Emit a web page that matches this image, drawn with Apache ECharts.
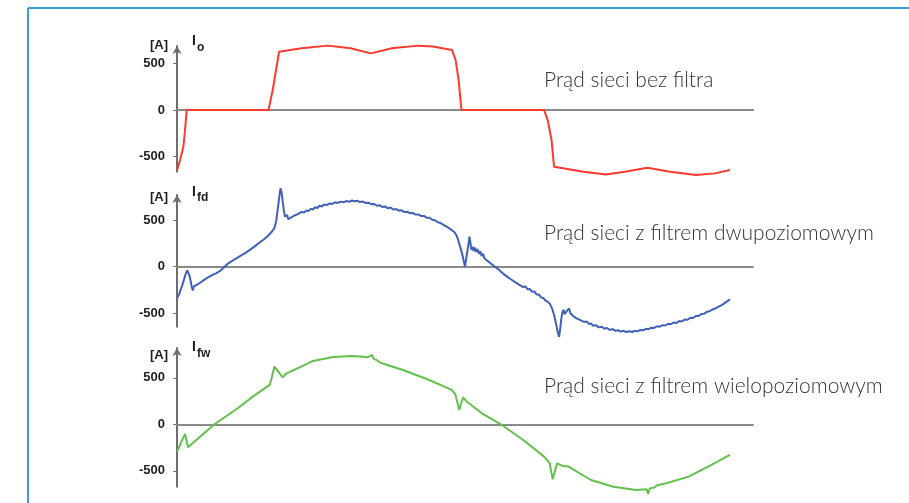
<!DOCTYPE html>
<html>
<head>
<meta charset="utf-8">
<script src="https://cdn.jsdelivr.net/npm/echarts@6/dist/echarts.min.js"></script>
<style>html,body{margin:0;padding:0;background:#fff}#c{width:909px;height:503px}</style>
</head>
<body>
<div id="c"></div>
<script>
// time in ms (one 50 Hz period), current in A
const yTickValues = [-500, 0, 500];
const unitLabel = '[A]';
const symbolMain = 'I';
const subscripts = ['o', 'fd', 'fw'];
const seriesNames = ['Prąd sieci bez filtra', 'Prąd sieci z filtrem dwupoziomowym', 'Prąd sieci z filtrem wielopoziomowym'];

const redPoints = [[0,-650],[0.11,-538],[0.23,-395],[0.29,-215],[0.35,0],[3.30,0],[3.45,215],[3.68,627],[4.49,663],[5.44,692],[6.25,663],[6.99,609],[7.74,663],[8.69,692],[9.23,682],[9.91,645],[10.04,538],[10.15,323],[10.25,0],[13.23,0],[13.36,-108],[13.5,-323],[13.59,-609],[14.65,-663],[15.46,-692],[16.14,-663],[16.95,-620],[17.77,-663],[18.71,-699],[19.39,-681],[19.93,-645]];

const bluePoints = [[0,-340],[0.07,-300],[0.13,-250],[0.2,-190],[0.26,-130],[0.32,-70],[0.37,-40],[0.41,-45],[0.45,-95],[0.49,-150],[0.53,-215],[0.57,-255],[0.61,-210],[0.66,-225],[0.71,-195],[0.76,-205],[0.82,-175],[0.88,-185],[0.94,-150],[1.0,-160],[1.06,-125],[1.12,-135],[1.18,-105],[1.24,-118],[1.3,-85],[1.36,-100],[1.42,-68],[1.48,-78],[1.55,-45],[1.62,-50],[1.7,-5],[1.76,-10],[1.82,30],[1.88,20],[1.95,55],[2.02,45],[2.08,80],[2.14,70],[2.2,100],[2.27,92],[2.33,125],[2.4,115],[2.47,148],[2.54,140],[2.6,175],[2.67,165],[2.74,205],[2.8,195],[2.87,235],[2.94,225],[3.0,265],[3.07,255],[3.14,295],[3.2,290],[3.27,330],[3.33,325],[3.4,370],[3.46,385],[3.52,420],[3.58,500],[3.64,640],[3.69,760],[3.73,843],[3.77,800],[3.81,700],[3.85,610],[3.89,540],[3.93,520],[3.97,555],[4.01,510],[4.05,490],[4.09,525],[4.14,505],[4.2,545],[4.27,535],[4.35,565],[4.42,558],[4.5,590],[4.58,582],[4.66,605],[4.74,598],[4.82,622],[4.9,615],[4.98,640],[5.06,632],[5.14,655],[5.22,648],[5.3,668],[5.4,662],[5.5,680],[5.6,675],[5.7,692],[5.8,686],[5.9,700],[6.0,693],[6.1,706],[6.2,698],[6.3,712],[6.4,703],[6.5,708],[6.6,696],[6.7,700],[6.8,685],[6.9,688],[7.0,672],[7.1,675],[7.2,655],[7.3,662],[7.4,642],[7.5,648],[7.6,628],[7.7,635],[7.8,615],[7.9,620],[8.0,602],[8.1,606],[8.2,588],[8.3,592],[8.4,574],[8.5,578],[8.6,560],[8.7,562],[8.8,544],[8.9,546],[9.0,526],[9.1,526],[9.2,505],[9.3,500],[9.4,478],[9.5,470],[9.6,450],[9.7,435],[9.8,415],[9.9,395],[10.0,370],[10.06,345],[10.12,300],[10.18,240],[10.24,180],[10.3,110],[10.35,40],[10.38,0],[10.42,80],[10.46,160],[10.5,230],[10.54,323],[10.57,270],[10.61,180],[10.65,215],[10.69,170],[10.73,205],[10.78,160],[10.83,190],[10.88,140],[10.93,165],[10.98,115],[11.03,140],[11.08,90],[11.13,110],[11.18,65],[11.23,85],[11.29,40],[11.35,55],[11.41,10],[11.47,25],[11.53,-15],[11.59,-5],[11.65,-45],[11.71,-38],[11.78,-80],[11.85,-72],[11.92,-112],[11.99,-105],[12.06,-140],[12.13,-132],[12.2,-168],[12.27,-160],[12.34,-195],[12.41,-188],[12.48,-220],[12.56,-212],[12.64,-245],[12.72,-240],[12.8,-270],[12.88,-265],[12.96,-300],[13.04,-298],[13.12,-330],[13.2,-335],[13.28,-365],[13.36,-375],[13.44,-400],[13.52,-450],[13.6,-530],[13.66,-610],[13.72,-700],[13.77,-753],[13.81,-670],[13.85,-560],[13.89,-490],[13.93,-462],[13.97,-510],[14.01,-525],[14.05,-475],[14.09,-455],[14.13,-450],[14.18,-500],[14.23,-490],[14.28,-530],[14.34,-520],[14.4,-555],[14.47,-545],[14.54,-575],[14.61,-568],[14.68,-595],[14.76,-588],[14.84,-615],[14.92,-610],[15.0,-635],[15.1,-628],[15.2,-652],[15.3,-645],[15.4,-665],[15.5,-660],[15.6,-678],[15.7,-672],[15.8,-690],[15.9,-683],[16.0,-697],[16.1,-690],[16.2,-702],[16.3,-694],[16.4,-702],[16.5,-690],[16.6,-695],[16.7,-680],[16.8,-684],[16.9,-668],[17.0,-672],[17.1,-655],[17.2,-658],[17.3,-640],[17.4,-645],[17.5,-628],[17.6,-632],[17.7,-614],[17.8,-618],[17.9,-600],[18.0,-604],[18.1,-585],[18.2,-588],[18.3,-568],[18.4,-570],[18.5,-550],[18.6,-552],[18.7,-530],[18.8,-530],[18.9,-508],[19.0,-505],[19.1,-485],[19.2,-478],[19.3,-460],[19.4,-450],[19.5,-432],[19.6,-418],[19.7,-400],[19.8,-378],[19.93,-351]];

const greenPoints = [[0,-295],[0.16,-187],[0.29,-104],[0.4,-247],[0.56,-204],[1.35,0],[2.19,172],[2.73,297],[3.34,423],[3.41,495],[3.51,620],[3.81,505],[3.95,548],[4.35,602],[4.90,681],[5.58,720],[6.25,734],[6.6,728],[6.86,720],[6.95,732],[7.04,745],[7.08,705],[7.13,684],[7.2,690],[7.33,662],[8.15,584],[9.09,476],[9.90,369],[10.04,315],[10.17,154],[10.31,290],[10.45,243],[10.99,118],[11.67,0],[12.48,-169],[13.23,-348],[13.43,-420],[13.54,-591],[13.70,-420],[13.9,-448],[14.11,-455],[14.92,-599],[15.73,-671],[16.55,-706],[16.8,-700],[16.93,-699],[16.98,-749],[17.04,-690],[17.09,-671],[17.2,-680],[17.3,-655],[17.63,-634],[18.44,-563],[19.26,-437],[19.93,-330]];

const colors = ['#fb3a2e', '#4161b8', '#62c04c'];
const panels = [
  {top: 46, height: 125.7, min: -663, max: 688},
  {top: 195, height: 131.7, min: -645, max: 771},
  {top: 348, height: 138.7, min: -671, max: 820}
];
const allPoints = [redPoints, bluePoints, greenPoints];

const chart = echarts.init(document.getElementById('c'), null, {renderer: 'canvas'});
const grids = panels.map(p => ({left: 177, width: 576, top: p.top, height: p.height}));
const xAxes = panels.map((p, i) => ({
  type: 'value', gridIndex: i, min: 0, max: 20.76,
  axisLine: {show: true, onZero: true, lineStyle: {color: '#8a8a8a', width: 2}},
  axisTick: {show: false}, axisLabel: {show: false}, splitLine: {show: false}
}));
const yAxes = panels.map((p, i) => ({
  type: 'value', gridIndex: i, min: p.min, max: p.max,
  axisLine: {show: true, onZero: false, symbol: ['none', 'arrow'], symbolSize: [7, 8],
    lineStyle: {color: '#6e6e6e', width: 2}},
  axisTick: {show: true, customValues: yTickValues, length: 4, lineStyle: {color: '#777', width: 1}},
  axisLabel: {show: true, customValues: yTickValues, margin: 12, color: '#1e1e1e', fontSize: 13,
    fontWeight: 'bold', fontFamily: 'Liberation Sans'},
  splitLine: {show: false}
}));
const series = allPoints.map((pts, i) => ({
  type: 'line', xAxisIndex: i, yAxisIndex: i, data: pts, showSymbol: false, clip: false,
  lineStyle: {color: colors[i], width: 2}, itemStyle: {color: colors[i]}, silent: true, animation: false
}));

const headY = [[45, 41, 48], [197.5, 192.5, 198], [355, 347.5, 353.5]];
const labelY = [80, 233, 386];
const graphic = [
  {type: 'line', shape: {x1: 28, y1: 8, x2: 909, y2: 8}, style: {stroke: '#3d9ad6', lineWidth: 2}},
  {type: 'line', shape: {x1: 28, y1: 8, x2: 28, y2: 503}, style: {stroke: '#3d9ad6', lineWidth: 2}}
];
headY.forEach((h, i) => {
  graphic.push({type: 'text', x: 168, y: h[0], style: {text: unitLabel, fill: '#1e1e1e', font: 'bold 13px "Liberation Sans"', align: 'right', verticalAlign: 'middle'}});
  graphic.push({type: 'text', x: 192, y: h[1], style: {text: symbolMain, fill: '#1e1e1e', font: 'bold 14px "Liberation Sans"', align: 'left', verticalAlign: 'middle'}});
  graphic.push({type: 'text', x: 197, y: h[2], style: {text: subscripts[i], fill: '#1e1e1e', font: 'bold 12px "Liberation Sans"', align: 'left', verticalAlign: 'middle'}});
  graphic.push({type: 'text', x: 544, y: labelY[i], style: {text: seriesNames[i], fill: '#333', font: '300 21px Lato', align: 'left', verticalAlign: 'middle'}});
});

chart.setOption({animation: false, grid: grids, xAxis: xAxes, yAxis: yAxes, series: series, graphic: graphic});
</script>
</body>
</html>
